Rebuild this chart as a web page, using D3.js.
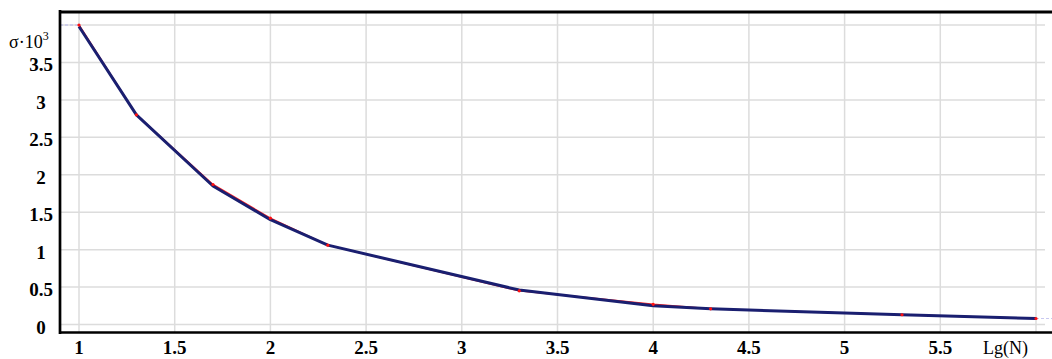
<!DOCTYPE html>
<html>
<head>
<meta charset="utf-8">
<script src="https://cdn.jsdelivr.net/npm/d3@7"></script>
<style>
  body { margin: 0; background: #fff; }
  text { font-family: 'Liberation Serif', 'Times New Roman', serif; }
</style>
</head>
<body>
<div class="chart"></div>
<script>
// lg(N) and sigma*10^3
const lgN = [1, 1.3, 1.7, 2, 2.3, 3.3, 4, 4.3, 5.3, 6];
const sigmaMeasured = [4.0, 2.80, 1.87, 1.42, 1.06, 0.45, 0.27, 0.21, 0.13, 0.08];
const sigmaFit = [3.98, 2.80, 1.85, 1.40, 1.06, 0.46, 0.25, 0.21, 0.13, 0.08];
const xTicks = [1, 1.5, 2, 2.5, 3, 3.5, 4, 4.5, 5, 5.5, 6];
const xTickLabels = ['1', '1.5', '2', '2.5', '3', '3.5', '4', '4.5', '5', '5.5', ''];
const yTicks = [0, 0.5, 1, 1.5, 2, 2.5, 3, 3.5, 4];
const yTickLabels = ['0', '0.5', '1', '1.5', '2', '2.5', '3', '3.5', ''];

const width = 1052;
const height = 359;

const svg = d3.select('.chart')
  .append('svg')
  .attr('width', width)
  .attr('height', height);

const x = d3.scaleLinear().domain([1, 6]).range([79, 1036]);
const y = d3.scaleLinear().domain([0, 4]).range([324.5, 25]);

const plotL = 60, plotR = 1052, plotT = 12, plotB = 332.5;

// grid
svg.append('g')
  .selectAll('line')
  .data(xTicks)
  .enter().append('line')
  .attr('x1', d => x(d)).attr('x2', d => x(d))
  .attr('y1', plotT).attr('y2', plotB)
  .attr('stroke', '#dcdcdc').attr('stroke-width', 1.5);

svg.append('g')
  .selectAll('line')
  .data(yTicks)
  .enter().append('line')
  .attr('x1', plotL).attr('x2', 1045)
  .attr('y1', d => y(d)).attr('y2', d => y(d))
  .attr('stroke', '#dcdcdc').attr('stroke-width', 1.5);

// dashed guides at the ends
svg.append('line')
  .attr('x1', plotL).attr('x2', x(lgN[0]))
  .attr('y1', y(sigmaMeasured[0])).attr('y2', y(sigmaMeasured[0]))
  .attr('stroke', '#b8b8f0').attr('stroke-width', 1).attr('stroke-dasharray', '3,2');
svg.append('line')
  .attr('x1', x(lgN[lgN.length - 1])).attr('x2', plotR)
  .attr('y1', y(sigmaFit[sigmaFit.length - 1])).attr('y2', y(sigmaFit[sigmaFit.length - 1]))
  .attr('stroke', '#c8c8f0').attr('stroke-width', 1).attr('stroke-dasharray', '3,2');

// frame
svg.append('line').attr('x1', plotL).attr('x2', plotR).attr('y1', plotT).attr('y2', plotT)
  .attr('stroke', '#000').attr('stroke-width', 3);
svg.append('line').attr('x1', plotL).attr('x2', plotL).attr('y1', 10).attr('y2', plotB + 1.5)
  .attr('stroke', '#000').attr('stroke-width', 2.7);
svg.append('line').attr('x1', plotL).attr('x2', plotR).attr('y1', plotB).attr('y2', plotB)
  .attr('stroke', '#000').attr('stroke-width', 2.7);

// series
const line = (ys) => d3.line()
  .x((d, i) => x(d))
  .y((d, i) => y(ys[i]));

svg.append('path')
  .datum(lgN)
  .attr('d', line(sigmaMeasured))
  .attr('fill', 'none')
  .attr('stroke', '#ff2020')
  .attr('stroke-width', 1.5);

svg.append('path')
  .datum(lgN)
  .attr('d', line(sigmaFit))
  .attr('fill', 'none')
  .attr('stroke', '#1a1f70')
  .attr('stroke-width', 3)
  .attr('stroke-linejoin', 'round');

svg.append('g')
  .selectAll('circle')
  .data(lgN)
  .enter().append('circle')
  .attr('cx', d => x(d))
  .attr('cy', (d, i) => y(sigmaMeasured[i]))
  .attr('r', 1.6)
  .attr('fill', '#ff1010');

// tick labels
svg.append('g')
  .selectAll('text')
  .data(xTicks)
  .enter().append('text')
  .attr('x', d => x(d))
  .attr('y', 354)
  .attr('text-anchor', 'middle')
  .attr('font-size', '19px')
  .attr('font-weight', 'bold')
  .text((d, i) => xTickLabels[i]);

svg.append('g')
  .selectAll('text')
  .data(yTicks)
  .enter().append('text')
  .attr('x', 41)
  .attr('y', d => y(d) + 9)
  .attr('text-anchor', 'middle')
  .attr('font-size', '19px')
  .attr('font-weight', 'bold')
  .text((d, i) => yTickLabels[i]);

// axis titles
const yt = svg.append('text')
  .attr('x', 9)
  .attr('y', 48)
  .attr('font-size', '18px');
yt.append('tspan').text('σ·10');
yt.append('tspan').attr('font-size', '12px').attr('dy', -8).text('3');

svg.append('text')
  .attr('x', 983)
  .attr('y', 354)
  .attr('font-size', '18px')
  .text('Lg(N)');
</script>
</body>
</html>
